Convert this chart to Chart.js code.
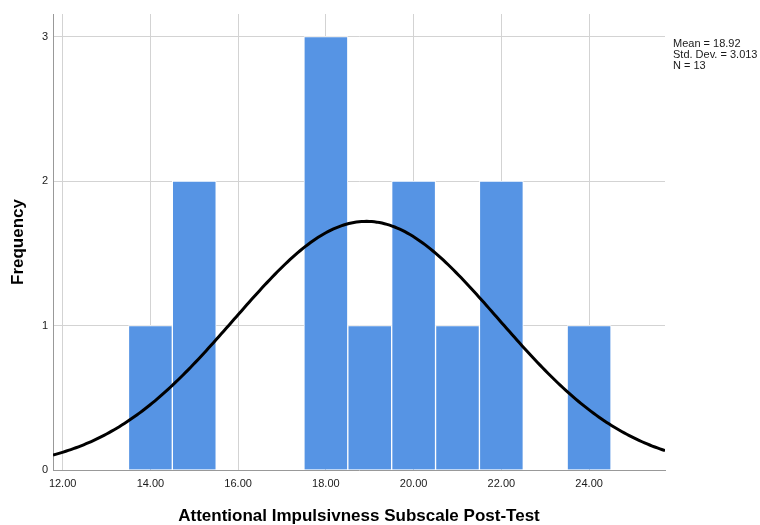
<!DOCTYPE html>
<html>
<head>
<meta charset="utf-8">
<script src="https://cdn.jsdelivr.net/npm/chart.js@4/dist/chart.umd.min.js"></script>
<style>
  html, body { margin: 0; padding: 0; background: #ffffff; }
  #wrap { width: 760px; height: 525px; }
</style>
</head>
<body>
<div id="wrap"><canvas id="hist" width="760" height="525"></canvas></div>
<script>
// Histogram bins (bin centre, width 1) and their counts
const binCenters = [14, 15, 18, 19, 20, 21, 22, 24];
const frequencies = [1, 2, 3, 1, 2, 1, 2, 1];

// Axis tick values
const xTickValues = [12, 14, 16, 18, 20, 22, 24];
const yTickValues = [0, 1, 2, 3];

// Axis ranges
const xRange = [11.78, 25.73];
const yRange = [0, 3.157];

const binWidth = 1;

// Summary statistics computed from the binned scores
const n = frequencies.reduce((a, b) => a + b, 0);
const mean = binCenters.reduce((s, v, i) => s + v * frequencies[i], 0) / n;
const sumSq = binCenters.reduce((s, v, i) => s + frequencies[i] * (v - mean) * (v - mean), 0);
const sd = Math.sqrt(sumSq / (n - 1));

// Fitted normal curve, scaled to counts per bin
const normalCurve = [];
const steps = 240;
for (let i = 0; i <= steps; i++) {
  const x = xRange[0] + (xRange[1] - xRange[0]) * i / steps;
  const z = (x - mean) / sd;
  const y = n * binWidth * Math.exp(-0.5 * z * z) / (sd * Math.sqrt(2 * Math.PI));
  normalCurve.push({ x, y });
}

const statLines = [
  'Mean = ' + mean.toFixed(2),
  'Std. Dev. = ' + sd.toFixed(3),
  'N = ' + n
];

const FONT = '"Liberation Sans", Arial, Helvetica, sans-serif';

const statsText = {
  id: 'statsText',
  afterDraw(chart) {
    const ctx = chart.ctx;
    ctx.save();
    ctx.font = '11px ' + FONT;
    ctx.fillStyle = '#1a1a1a';
    ctx.textAlign = 'left';
    ctx.textBaseline = 'alphabetic';
    const x = chart.chartArea.right + 8;
    statLines.forEach((t, i) => ctx.fillText(t, x, 47 + i * 11));
    ctx.restore();
  }
};

new Chart(document.getElementById('hist'), {
  type: 'bar',
  data: {
    datasets: [
      {
        type: 'line',
        data: normalCurve,
        borderColor: '#000000',
        borderWidth: 3,
        pointRadius: 0,
        tension: 0,
        fill: false,
        order: 0
      },
      {
        type: 'bar',
        data: binCenters.map((c, i) => ({ x: c, y: frequencies[i] })),
        backgroundColor: '#5694e4',
        borderColor: '#ffffff',
        borderWidth: 1,
        barPercentage: 1.0,
        categoryPercentage: 1.0,
        order: 1
      }
    ]
  },
  options: {
    responsive: false,
    devicePixelRatio: 1,
    animation: false,
    layout: { padding: { left: 0, right: 95, top: 14, bottom: 0 } },
    plugins: {
      legend: { display: false },
      tooltip: { enabled: false }
    },
    scales: {
      x: {
        type: 'linear',
        offset: false,
        min: xRange[0],
        max: xRange[1],
        afterBuildTicks(scale) {
          scale.ticks = xTickValues.map(v => ({ value: v }));
        },
        afterFit(scale) { scale.height = 55; },
        ticks: {
          padding: 7,
          color: '#1a1a1a',
          font: { family: FONT, size: 11 },
          maxRotation: 0,
          callback: v => Number(v).toFixed(2)
        },
        grid: { color: '#d3d3d3', lineWidth: 1, drawTicks: false, offset: false },
        border: { display: true, color: '#999999', width: 1 },
        title: {
          display: true,
          text: 'Attentional Impulsivness Subscale Post-Test',
          color: '#000000',
          font: { family: FONT, size: 17, weight: 'bold' },
          padding: { top: 0, bottom: -1.5 }
        }
      },
      y: {
        type: 'linear',
        min: yRange[0],
        max: yRange[1],
        afterBuildTicks(scale) {
          scale.ticks = yTickValues.map(v => ({ value: v }));
        },
        afterFit(scale) { scale.width = 53; },
        ticks: {
          padding: 5,
          color: '#1a1a1a',
          font: { family: FONT, size: 11 },
          callback: v => String(v)
        },
        grid: {
          color: ctx => (ctx.tick && ctx.tick.value === 0) ? 'rgba(0,0,0,0)' : '#d3d3d3',
          lineWidth: 1,
          drawTicks: false
        },
        border: { display: true, color: '#999999', width: 1 },
        title: {
          display: true,
          text: 'Frequency',
          color: '#000000',
          font: { family: FONT, size: 17, weight: 'bold' },
          padding: { top: 8, bottom: 0 }
        }
      }
    }
  },
  plugins: [statsText]
});
</script>
</body>
</html>
